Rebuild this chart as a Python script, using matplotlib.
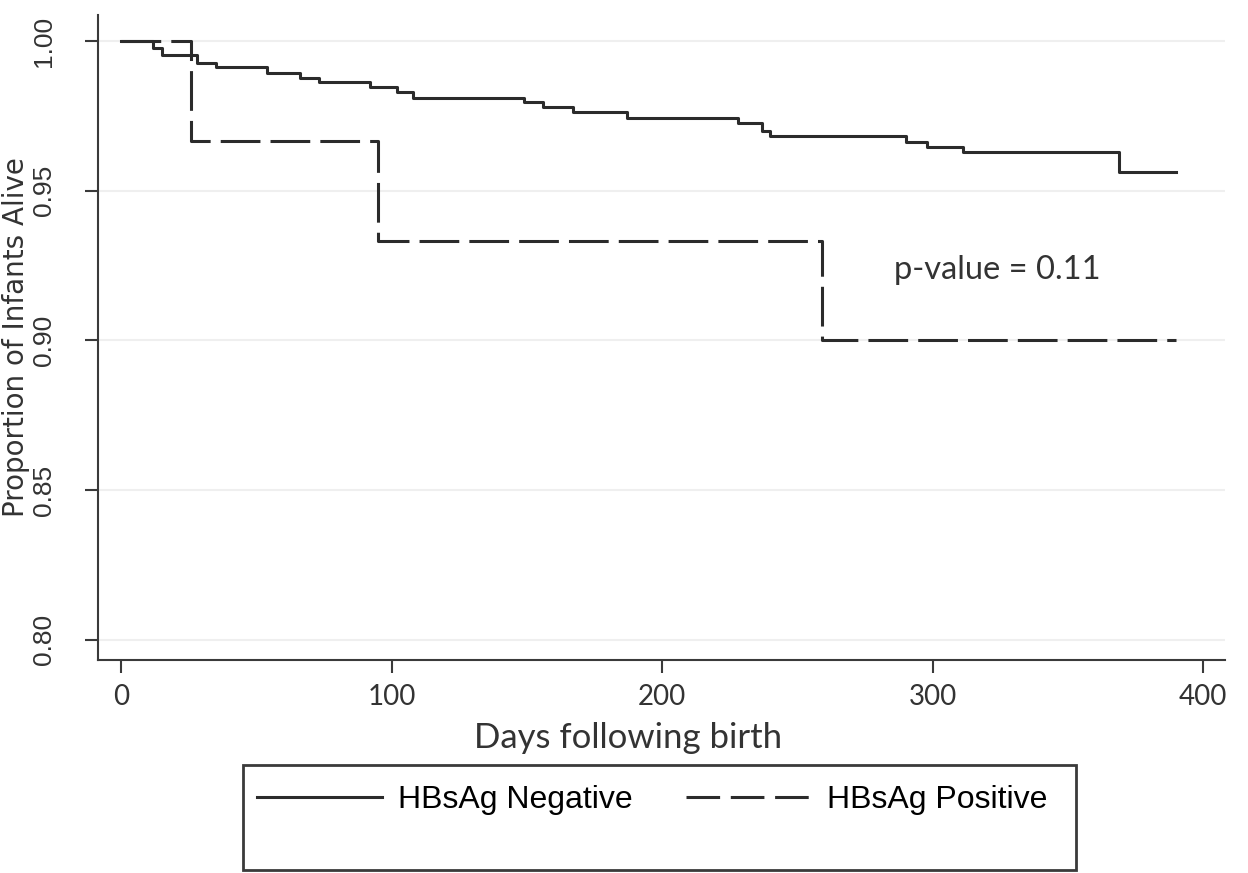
import numpy as np
import matplotlib
matplotlib.use("Agg")
import matplotlib.pyplot as plt
from matplotlib.lines import Line2D
from matplotlib.patches import Rectangle

# Kaplan-Meier estimates
days_neg = [0, 12, 15, 28, 35, 54, 66, 73, 92, 102, 108, 149, 156, 167, 187, 228, 237, 240, 290, 298, 311, 369, 390]
surv_neg = [1.0, 0.9977, 0.9953, 0.9928, 0.9914, 0.9892, 0.9878, 0.9864, 0.9847, 0.9831, 0.9809, 0.9795,
            0.9781, 0.9762, 0.9742, 0.9727, 0.9700, 0.9683, 0.9664, 0.9647, 0.9630, 0.9562, 0.9562]
days_pos = [0, 26, 95, 259, 390]
surv_pos = [1.0, 0.9667, 0.9333, 0.9000, 0.9000]

x_ticks = [0, 100, 200, 300, 400]
y_ticks = [0.80, 0.85, 0.90, 0.95, 1.00]
labels = ["HBsAg Negative", "HBsAg Positive"]
p_text = "p-value = 0.11"

line_col = "#2b2b2b"
axis_col = "#3a3a3a"
txt_col = "#333333"
cal_font = ["Lato", "DejaVu Sans"]
ari_font = ["Liberation Sans", "DejaVu Sans"]

W, H = 1248, 873
fig = plt.figure(figsize=(W / 100, H / 100), dpi=100)
ax = fig.add_axes([98 / W, 1 - 660 / H, (1225 - 98) / W, (660 - 15) / H])

ax.step(days_neg, surv_neg, where="post", color=line_col, lw=2.2)
ax.step(days_pos, surv_pos, where="post", color=line_col, lw=2.2, dashes=(13, 3.3))

ax.set_xlim(-8.5, 408)
ax.set_ylim(0.7933, 1.0087)
ax.set_xticks(x_ticks)
ax.set_yticks(y_ticks)
ax.set_xticklabels([str(t) for t in x_ticks], fontsize=20, family=cal_font, color=txt_col)
ax.set_yticklabels([f"{t:.2f}" for t in y_ticks], fontsize=19, family=ari_font, color=txt_col,
                   rotation=90, va="center")
ax.tick_params(direction="out", length=9.5, width=1.5, color=axis_col)
ax.tick_params(axis="x", pad=8)
ax.tick_params(axis="y", pad=21)

for s in ["top", "right"]:
    ax.spines[s].set_visible(False)
for s in ["left", "bottom"]:
    ax.spines[s].set_color(axis_col)
    ax.spines[s].set_linewidth(1.5)

ax.grid(axis="y", color="#efefef", lw=1.5)
ax.set_axisbelow(True)

ax.set_xlabel("Days following birth", fontsize=25, family=cal_font, color=txt_col)
ax.xaxis.set_label_coords((628 - 98) / 1127, -(738 - 660) / 645, transform=ax.transAxes)
ax.xaxis.label.set_va("center")
ax.set_ylabel("Proportion of Infants Alive", fontsize=20, family=["DejaVu Sans"], color=txt_col)
ax.yaxis.set_label_coords(-(98 - 16) / 1127, 0.5, transform=ax.transAxes)
ax.yaxis.label.set_va("center")

ax.text(285.5, 0.9235, p_text, fontsize=23.5, family=cal_font, color=txt_col, va="center", ha="left")

# legend box below the axes
fig.patches.append(Rectangle((243 / W, 3 / H), (1076 - 243) / W, (870 - 765) / H,
                             transform=fig.transFigure, fill=False, ec=axis_col, lw=2))
handles = [Line2D([], [], color=line_col, lw=2.2),
           Line2D([], [], color=line_col, lw=2.2, dashes=(11, 3.5))]
fig.legend(handles, labels, loc="center left", bbox_to_anchor=(257 / W, 1 - 800 / H), ncol=2,
           frameon=False, prop={"family": ari_font, "size": 23}, borderpad=0, borderaxespad=0,
           handlelength=3.9, handletextpad=0.5, columnspacing=1.7)

fig.savefig("out.png", dpi=100)
